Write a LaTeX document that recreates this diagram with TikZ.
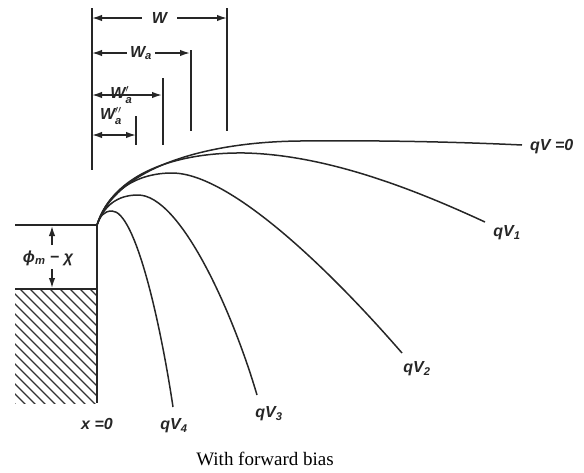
\documentclass[tikz,border=0pt]{standalone}
\usepackage{fontspec}
\usepackage{amsmath}
\setmainfont{Liberation Serif}
\newfontfamily\labfont{Liberation Sans}
\usetikzlibrary{arrows.meta}

\begin{document}
\begin{tikzpicture}[x=1pt,y=-1pt,
    band/.style={line width=1.5pt,black!85},
    tick/.style={line width=1.5pt,black!85},
    dim/.style={line width=1.5pt,black!85,{Latex[length=10pt,width=6.5pt]}-{Latex[length=10pt,width=6.5pt]}},
    onearr/.style={line width=1.5pt,black!85,-{Latex[length=10pt,width=6.5pt]}},
    lab/.style={font=\fontsize{16}{19}\selectfont\labfont\bfseries\itshape,inner sep=1pt,black!85},
    hatch/.style={line width=1.3pt,black!80}]
  \useasboundingbox (0,0) rectangle (584,472);
  % metal side
  \coordinate (o) at (97,225);
  \coordinate (mtop) at (15,225);
  \coordinate (ftop) at (15,289);
  \coordinate (fright) at (97,289);
  \coordinate (mbot) at (97,403);
  \begin{scope}
    \clip (15,289) rectangle (97,403);
    \foreach \xx in {-160,-150,...,100}
      \draw[hatch] (\xx,289) -- ++(160,160);
  \end{scope}
  \draw[tick] (mtop) -- (o) -- (mbot);
  \draw[tick] (ftop) -- (fright);
  % barrier height
  \node[lab] (phi) at (48,258) {ϕ\textsubscript{m} − χ};
  \coordinate (phiup) at (52,245);
  \coordinate (phidn) at (52,269);
  \draw[onearr] (phiup) -- (52,226);
  \draw[onearr] (phidn) -- (52,288);
  % depletion widths
  \coordinate (wl0) at (92,8);   \coordinate (wl1) at (92,170);
  \coordinate (wr0) at (227,8);  \coordinate (wr1) at (227,131);
  \coordinate (ar0) at (191,50); \coordinate (ar1) at (191,131);
  \coordinate (br0) at (163,78); \coordinate (br1) at (163,145);
  \coordinate (cr0) at (136,116);\coordinate (cr1) at (136,145);
  \draw[tick] (wl0) -- (wl1);
  \draw[tick] (wr0) -- (wr1);
  \draw[tick] (ar0) -- (ar1);
  \draw[tick] (br0) -- (br1);
  \draw[tick] (cr0) -- (cr1);
  \draw[dim] (92,18) -- (227,18) node[midway,lab,fill=white,inner xsep=10pt] (w) {W};
  \draw[dim] (92,53) -- (190,53) node[midway,lab,fill=white,inner xsep=3pt] (wa) {W\textsubscript{a}};
  \draw[dim] (92,95) -- (162,95) node[pos=0.42,lab] (wap) {W\ensuremath{^{\prime}_{\text{a}}}};
  \draw[dim] (92,135) -- (136,135);
  \node[lab] (wapp) at (111,116) {W\ensuremath{^{\prime\prime}_{\text{a}}}};
  % band edges
  \draw[band] (o) .. controls (115,170) and (200,142) .. (300,141)
                  .. controls (400,140) and (480,143) .. (522,145) coordinate (e0);
  \draw[band] (o) .. controls (113,174) and (175,152) .. (245,153)
                  .. controls (330,155) and (420,192) .. (485,222) coordinate (e1);
  \draw[band] (o) .. controls (108,190) and (138,173) .. (172,173)
                  .. controls (230,173) and (330,270) .. (402,353) coordinate (e2);
  \draw[band] (o) .. controls (104,205) and (118,195) .. (138,195)
                  .. controls (180,195) and (232,310) .. (257,395) coordinate (e3);
  \draw[band] (o) .. controls (100,216) and (104,211) .. (112,211)
                  .. controls (135,211) and (160,320) .. (173,407) coordinate (e4);
  \node[lab,anchor=west] (l0) at (529,147) {qV =0};
  \node[lab] (l1) at (507,233) {qV\textsubscript{1}};
  \node[lab] (l2) at (417,369) {qV\textsubscript{2}};
  \node[lab] (l3) at (269,414) {qV\textsubscript{3}};
  \node[lab] (l4) at (174,426) {qV\textsubscript{4}};
  \node[lab] (x0) at (97,424) {x =0};
  \node[font=\fontsize{19}{22}\selectfont] (cap) at (265,459) {With forward bias};
\end{tikzpicture}
\end{document}
